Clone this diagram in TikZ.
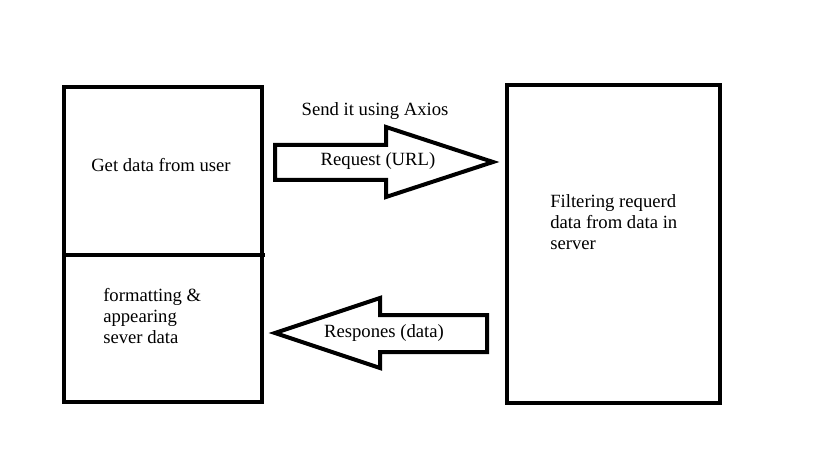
\documentclass[tikz,border=0pt]{standalone}
\usepackage{fontspec}
\setmainfont{Liberation Serif}
\newfontfamily\boxfont{Liberation Serif}
\usetikzlibrary{positioning}
\tikzset{box/.style={draw, line width=3pt},
         fat/.style={draw, line width=3pt, line join=miter},
         lbl/.style={font=\boxfont\fontsize{14}{15.75}\selectfont, inner sep=0pt, align=left}}

\begin{document}
\begin{tikzpicture}[x=0.75pt, y=-0.75pt]
\useasboundingbox (0,0) rectangle (819,460);
% client side
\draw[box] (64,87) rectangle (262,402);
\draw[box] (64,255) -- (265,255);
% server side
\draw[box] (507,85) rectangle (720,403);
% request arrow
\draw[fat] (275,145) -- (386,145) -- (386,127) -- (493,162) -- (386,197) -- (386,180) -- (275,180) -- cycle;
% response arrow
\draw[fat] (487,315) -- (380,315) -- (380,298) -- (275,333) -- (380,368) -- (380,352) -- (487,352) -- cycle;
\node[lbl, anchor=west] (getdata) at (91,165) {Get data from user};
\node[lbl, anchor=west] (format) at (103,316) {formatting \&\\appearing\\sever data};
\node[lbl, anchor=west] (filter) at (550,222) {Filtering requerd\\data from data in\\server};
\node[lbl] (axios) at (375,111) {Send it using Axios};
\node[lbl] (req) at (378,161) {Request (URL)};
\node[lbl] (resp) at (384,333) {Respones (data)};
\end{tikzpicture}
\end{document}
